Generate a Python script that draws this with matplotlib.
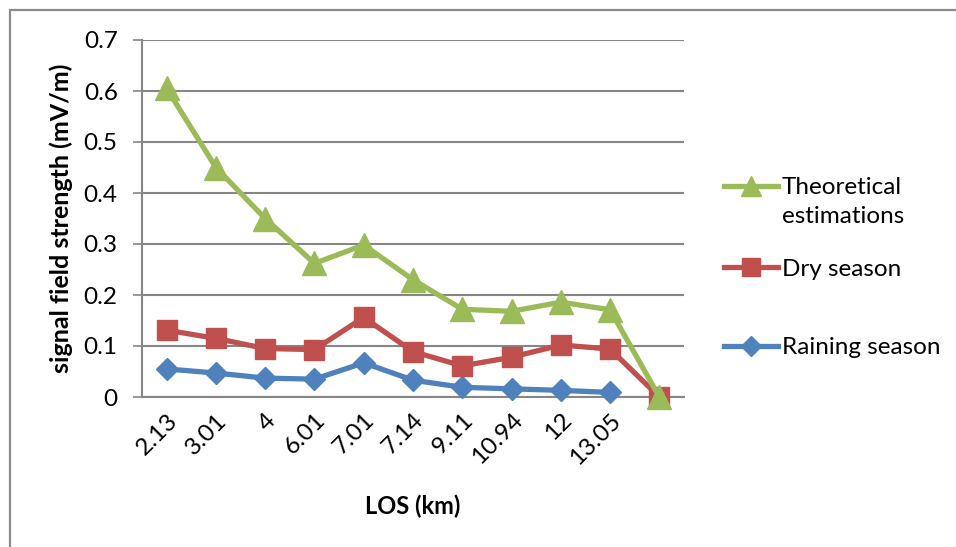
import matplotlib.pyplot as plt
from matplotlib.lines import Line2D
from matplotlib.patches import Rectangle

plt.rcParams['font.family'] = ['Lato', 'DejaVu Sans']

# distance labels (last category has no label)
los_km = ["2.13", "3.01", "4", "6.01", "7.01", "7.14", "9.11", "10.94", "12", "13.05", ""]

theoretical = [0.605, 0.45, 0.35, 0.262, 0.298, 0.23, 0.172, 0.168, 0.186, 0.171, 0.0]
dry_season = [0.131, 0.115, 0.095, 0.093, 0.156, 0.089, 0.061, 0.078, 0.102, 0.094, 0.0]
raining_season = [0.055, 0.047, 0.037, 0.035, 0.067, 0.033, 0.019, 0.016, 0.013, 0.009]

green = '#9BBB59'
red = '#C0504D'
blue = '#4F81BD'
grid_c = '#868686'

fig = plt.figure(figsize=(9.56, 5.47), dpi=100)
ax = fig.add_axes([142 / 956, 1 - 397 / 547, 542 / 956, 357 / 547])

x = list(range(len(los_km)))
ax.plot(x[:len(raining_season)], raining_season, color=blue, lw=3.8,
        marker='D', ms=11.5, zorder=3, clip_on=False)
ax.plot(x, dry_season, color=red, lw=3.8, marker='s', ms=14.5, zorder=4,
        clip_on=False)
ax.plot(x, theoretical, color=green, lw=3.8, marker='^', ms=17, zorder=5,
        clip_on=False)

ax.set_xlim(-0.5, len(los_km) - 0.5)
ax.set_ylim(0, 0.7)
ax.set_yticks([0, 0.1, 0.2, 0.3, 0.4, 0.5, 0.6, 0.7])
ax.set_yticklabels(['0', '0.1', '0.2', '0.3', '0.4', '0.5', '0.6', '0.7'])
ax.set_xticks(x)
ax.set_xticklabels(los_km, rotation=45, ha='right', rotation_mode='anchor')

ax.grid(axis='y', color=grid_c, lw=1.5, zorder=0)
ax.set_axisbelow(True)
for s in ['top', 'right']:
    ax.spines[s].set_visible(False)
for s in ['left', 'bottom']:
    ax.spines[s].set_color(grid_c)
    ax.spines[s].set_linewidth(1.5)
ax.tick_params(axis='y', length=6.5, width=1.2, color=grid_c, pad=11,
               labelsize=17.5)
ax.tick_params(axis='x', length=0, pad=9, labelsize=17.5)

ax.set_ylabel('signal field strength (mV/m)', fontsize=18, fontweight='bold')
ax.yaxis.set_label_coords(-0.128, 0.5)
ax.set_xlabel('LOS (km)', fontsize=17, fontweight='bold')
ax.xaxis.set_label_coords(0.5, -0.272)

# legend drawn in figure pixels
def fx(px):
    return px / 956

def fy(py):
    return 1 - py / 547

entries = [
    (green, '^', 15, 'Theoretical\nestimations', 186),
    (red, 's', 13, 'Dry season', 267),
    (blue, 'D', 10.5, 'Raining season', 346),
]
for col, mk, size, label, ypx in entries:
    fig.add_artist(Line2D([fx(724), fx(751), fx(778)], [fy(ypx)] * 3,
                          color=col, lw=3.8, marker=mk, ms=size,
                          markevery=[1], transform=fig.transFigure))
    if '\n' in label:
        fig.text(fx(782), fy(ypx - 9), label, fontsize=17.5, va='top',
                 ha='left', linespacing=1.45)
    else:
        fig.text(fx(782), fy(ypx), label, fontsize=17.5,
                 va='center_baseline', ha='left')

# outer chart border
fig.add_artist(Rectangle((fx(10), -0.1), 1.2, fy(10) + 0.1, fill=False,
                         edgecolor='#8c8c8c', lw=1.6,
                         transform=fig.transFigure))

fig.savefig('out.png', dpi=100)
